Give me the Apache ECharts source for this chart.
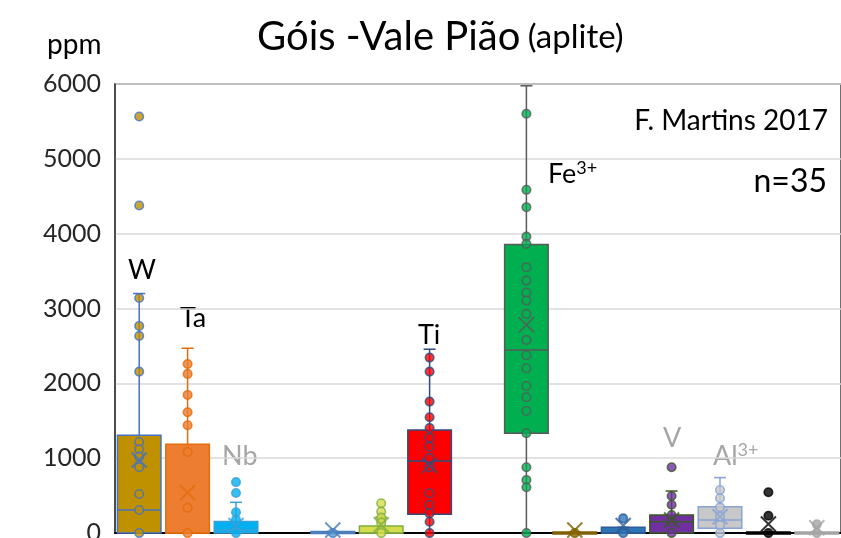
<!DOCTYPE html>
<html lang="pt">
<head>
  <meta charset="UTF-8">
  <title>Góis - Vale Pião</title>
  <style>
    html, body { margin: 0; padding: 0; background: #fff; }
    #chart { width: 841px; height: 538px; }
  </style>
</head>
<body>
  <div id="chart"></div>
  <script src="https://cdn.jsdelivr.net/npm/echarts@6/dist/echarts.min.js"></script>
  <script>
    // elements along the x axis (axis labels are cropped off in the original)
    const categories = ['W', 'Ta', 'Nb', 'x4', 'x5', 'x6', 'Ti', 'x8', 'Fe3+', 'x10', 'x11', 'V', 'Al3+', 'x14', 'x15'];
    // [min, Q1, median, Q3, max] per element, null = empty slot
    const boxStats = [
      [0, 0, 307, 1306, 3200],
      [0, 0, 0, 1186, 2469],
      [0, 0, 40, 155, 410],
      null,
      [0, 0, 0, 20, 20],
      [0, 0, 0, 94, 210],
      [0, 250, 963, 1377, 2456],
      null,
      [0, 1333, 2447, 3855, 5976],
      [0, 0, 0, 15, 15],
      [0, 0, 0, 76, 76],
      [0, 0, 151, 240, 561],
      [0, 63, 174, 352, 740],
      [0, 0, 0, 12, 12],
      [0, 0, 0, 12, 12]
    ];
    const means = [976, 539, 100, null, 40, 110, 900, null, 2781, 40, 100, 174, 218, 120, 70];
    const points = [
      [5566, 4376, 3140, 2767, 2634, 2157, 1216, 1119, 1020, 878, 521, 307, 0],
      [2259, 2126, 1845, 1613, 1440, 1083, 338, 0],
      [680, 535, 277, 180, 0],
      [],
      [0],
      [397, 285, 205, 138, 0],
      [2344, 2157, 1756, 1547, 1404, 1274, 1154, 1000, 880, 531, 374, 263, 151, 0],
      [],
      [5602, 4586, 4354, 3961, 3864, 3552, 3373, 3213, 3106, 2928, 2580, 2376, 2202, 1965, 1814, 1631, 1333, 878, 709, 611, 0],
      [0],
      [196, 0],
      [878, 495, 378, 240, 151, 0],
      [575, 464, 343, 218, 107, 0],
      [544, 230, 0],
      [116, 0]
    ];
    const fills = ['#bf9000', '#ed7d31', '#00b0f0', '#fff', '#5b9bd5', '#d6dc4b', '#ff0000', '#fff',
      '#00b050', '#8c6d00', '#2e75b6', '#7030a0', '#c8c8c8', '#000000', '#a5a5a5'];
    const borders = ['#4472c4', '#e46c0a', '#3b9fd6', '#fff', '#4a7ebb', '#7fae3f', '#2f4c7e', '#fff',
      '#595959', '#7f6000', '#2f5c9a', '#3a5a27', '#86a3d6', '#000000', '#a5a5a5'];
    const yTicks = [0, 1000, 2000, 3000, 4000, 5000, 6000];

    const chart = echarts.init(document.getElementById('chart'));

    const boxData = [];
    boxStats.forEach((s, i) => { if (s) boxData.push([i].concat(s)); });

    const pointData = [];
    points.forEach((list, i) => {
      list.forEach(v => pointData.push({
        value: [i, v],
        itemStyle: { color: fills[i], borderColor: borders[i] }
      }));
    });

    const meanData = [];
    means.forEach((m, i) => {
      if (m != null) meanData.push({ value: [i, m], itemStyle: { borderColor: borders[i] } });
    });

    function renderBox(params, api) {
      const i = api.value(0);
      const slot = api.size([1, 0])[0];
      const w = slot * 0.9;
      const x = api.coord([i, 0])[0];
      const yMin = api.coord([i, api.value(1)])[1];
      const yQ1 = api.coord([i, api.value(2)])[1];
      const yMed = api.coord([i, api.value(3)])[1];
      const yQ3 = api.coord([i, api.value(4)])[1];
      const yMax = api.coord([i, api.value(5)])[1];
      const line = { stroke: borders[i], lineWidth: 1.5 };
      return {
        type: 'group',
        children: [
          { type: 'line', shape: { x1: x, y1: yMax, x2: x, y2: yMin }, style: line },
          { type: 'line', shape: { x1: x - 6, y1: yMax, x2: x + 6, y2: yMax }, style: line },
          { type: 'rect', shape: { x: x - w / 2, y: yQ3, width: w, height: Math.max(yQ1 - yQ3, 2) },
            style: { fill: fills[i], stroke: borders[i], lineWidth: 1.5 } },
          { type: 'line', shape: { x1: x - w / 2, y1: yMed, x2: x + w / 2, y2: yMed }, style: line }
        ]
      };
    }

    const labelFont = 'Lato, "Liberation Sans", sans-serif';

    const option = {
      animation: false,
      backgroundColor: '#fff',
      textStyle: { fontFamily: labelFont },
      grid: {
        left: 115, right: 0, top: 84, bottom: 5,
        outerBoundsMode: 'none', containLabel: false,
        show: true, borderColor: '#404040', borderWidth: 1.5
      },
      xAxis: {
        type: 'category',
        data: categories,
        axisLine: { lineStyle: { color: '#000', width: 2 } },
        axisTick: { show: false },
        axisLabel: { show: false }
      },
      yAxis: {
        type: 'value',
        min: yTicks[0],
        max: yTicks[yTicks.length - 1],
        interval: 1000,
        axisLine: { show: true, lineStyle: { color: '#404040', width: 1.5 } },
        axisTick: { show: false },
        axisLabel: { fontSize: 25, color: '#262626', margin: 14, fontFamily: labelFont, formatter: v => String(v) },
        splitLine: { lineStyle: { color: '#d9d9d9', width: 1.5 } }
      },
      series: [
        {
          type: 'custom',
          renderItem: renderBox,
          data: boxData,
          encode: { x: 0, y: [1, 2, 3, 4, 5] },
          z: 2
        },
        {
          type: 'scatter',
          data: pointData,
          symbolSize: 8.5,
          itemStyle: { borderWidth: 1.6 },
          z: 3
        },
        {
          type: 'scatter',
          data: meanData,
          symbol: 'path://M0,0L10,10M10,0L0,10',
          symbolSize: 15,
          itemStyle: { color: 'none', borderWidth: 2 },
          z: 4
        }
      ],
      graphic: [
        { type: 'text', left: 257, top: 17, style: {
          text: '{a|Góis -Vale Pião} {b|(aplite)}',
          rich: { a: { fontSize: 40, fontFamily: labelFont, fill: '#000' },
                  b: { fontSize: 33, fontFamily: labelFont, fill: '#000', padding: [0, 0, 0, 4] } } } },
        { type: 'text', left: 47, top: 31, style: { text: 'ppm', fontSize: 28, fontFamily: labelFont, fill: '#000' } },
        { type: 'text', right: 13, top: 107, style: { text: 'F. Martins 2017', fontSize: 28, fontFamily: labelFont, fill: '#000' } },
        { type: 'text', right: 14, top: 166, style: { text: 'n=35', fontSize: 32, fontFamily: labelFont, fill: '#000' } },
        { type: 'text', left: 128, top: 257, style: { text: 'W', fontSize: 27, fontFamily: labelFont, fill: '#000' } },
        { type: 'text', left: 180, top: 305, style: { text: 'Ta', fontSize: 27, fontFamily: labelFont, fill: '#000' } },
        { type: 'text', left: 222, top: 443, style: { text: 'Nb', fontSize: 27, fontFamily: labelFont, fill: '#a6a6a6' } },
        { type: 'text', left: 418, top: 322, style: { text: 'Ti', fontSize: 27, fontFamily: labelFont, fill: '#000' } },
        { type: 'text', left: 548, top: 159, style: {
          text: '{a|Fe}{s|3+}',
          rich: { a: { fontSize: 27, fontFamily: labelFont, fill: '#000' },
                  s: { fontSize: 18, fontFamily: labelFont, fill: '#000', verticalAlign: 'top', padding: [0, 0, 12, 0] } } } },
        { type: 'text', left: 663, top: 425, style: { text: 'V', fontSize: 27, fontFamily: labelFont, fill: '#a6a6a6' } },
        { type: 'text', left: 713, top: 441, style: {
          text: '{a|Al}{s|3+}',
          rich: { a: { fontSize: 27, fontFamily: labelFont, fill: '#a6a6a6' },
                  s: { fontSize: 18, fontFamily: labelFont, fill: '#a6a6a6', verticalAlign: 'top', padding: [0, 0, 12, 0] } } } }
      ]
    };
    chart.setOption(option);
  </script>
</body>
</html>
